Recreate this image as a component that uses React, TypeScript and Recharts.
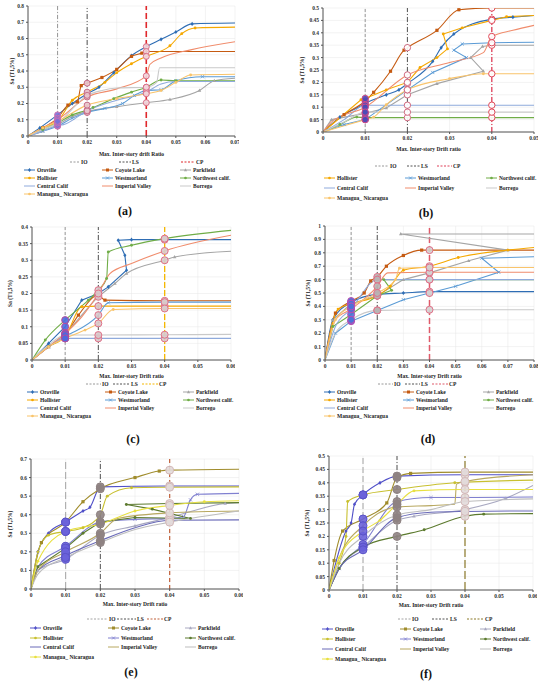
import React from 'react';
import { ComposedChart, Line, Scatter, XAxis, YAxis, CartesianGrid, ReferenceLine } from 'recharts';

type Pt = [number, number];

const SERIES_NAMES = ['Oroville', 'Coyote Lake', 'Parkfield', 'Hollister', 'Westmorland', 'Northwest calif.', 'Central Calif', 'Imperial Valley', 'Borrego', 'Managua_ Nicaragua'];
const LIMIT_NAMES = ['IO', 'LS', 'CP'];
const LIMIT_X = [0.01, 0.02, 0.04];
const MARKERS = ['diamond', 'square', 'triangle', 'circle', 'cross', 'circle', 'none', 'none', 'none', 'circle'];

// ---------- Panel (a) ----------
const A_X_TICKS = [0, 0.01, 0.02, 0.03, 0.04, 0.05, 0.06, 0.07];
const A_Y_TICKS = [0, 0.1, 0.2, 0.3, 0.4, 0.5, 0.6, 0.7, 0.8];
const A_ORO: Pt[] = [[0, 0], [0.004, 0.05], [0.01, 0.13], [0.015, 0.2], [0.02, 0.26], [0.024, 0.3], [0.029, 0.39], [0.035, 0.495], [0.04, 0.55], [0.045, 0.595], [0.05, 0.64], [0.0555, 0.69], [0.07, 0.695]];
const A_COY: Pt[] = [[0, 0], [0.005, 0.05], [0.01, 0.11], [0.0135, 0.19], [0.0167, 0.21], [0.018, 0.31], [0.02, 0.325], [0.025, 0.36], [0.03, 0.41], [0.035, 0.49], [0.0385, 0.51], [0.04, 0.52], [0.07, 0.52]];
const A_PAR: Pt[] = [[0, 0], [0.005, 0.03], [0.01, 0.07], [0.015, 0.12], [0.02, 0.15], [0.03, 0.18], [0.04, 0.205], [0.048, 0.225], [0.058, 0.28], [0.063, 0.34], [0.07, 0.355]];
const A_HOL: Pt[] = [[0, 0], [0.005, 0.05], [0.01, 0.09], [0.015, 0.22], [0.02, 0.27], [0.026, 0.33], [0.03, 0.39], [0.035, 0.445], [0.04, 0.49], [0.048, 0.555], [0.052, 0.63], [0.0565, 0.665], [0.07, 0.67]];
const A_WES: Pt[] = [[0, 0], [0.005, 0.03], [0.01, 0.06], [0.015, 0.11], [0.02, 0.145], [0.026, 0.17], [0.032, 0.2], [0.036, 0.25], [0.04, 0.28], [0.045, 0.285], [0.05, 0.34], [0.059, 0.365], [0.07, 0.365]];
const A_NW: Pt[] = [[0, 0], [0.005, 0.04], [0.01, 0.08], [0.015, 0.13], [0.02, 0.16], [0.022, 0.175], [0.029, 0.23], [0.035, 0.27], [0.04, 0.3], [0.045, 0.345], [0.05, 0.34], [0.07, 0.34]];
const A_CEN: Pt[] = [[0, 0], [0.005, 0.03], [0.01, 0.065], [0.012, 0.07], [0.02, 0.155], [0.03, 0.22], [0.04, 0.27], [0.045, 0.32], [0.05, 0.335], [0.07, 0.335]];
const A_IMP: Pt[] = [[0, 0], [0.005, 0.05], [0.01, 0.1], [0.02, 0.24], [0.03, 0.29], [0.04, 0.37], [0.0412, 0.44], [0.045, 0.48], [0.055, 0.53], [0.07, 0.58]];
const A_BOR: Pt[] = [[0, 0], [0.005, 0.04], [0.01, 0.08], [0.02, 0.25], [0.025, 0.28], [0.03, 0.295], [0.04, 0.3], [0.0435, 0.33], [0.0445, 0.42], [0.07, 0.42]];
const A_MAN: Pt[] = [[0, 0], [0.005, 0.05], [0.01, 0.09], [0.02, 0.19], [0.03, 0.23], [0.04, 0.26], [0.045, 0.28], [0.05, 0.33], [0.055, 0.375], [0.07, 0.38]];

// ---------- Panel (b) ----------
const B_X_TICKS = [0, 0.01, 0.02, 0.03, 0.04, 0.05];
const B_Y_TICKS = [0, 0.05, 0.1, 0.15, 0.2, 0.25, 0.3, 0.35, 0.4, 0.45, 0.5];
const B_ORO: Pt[] = [[0, 0], [0.004, 0.06], [0.0095, 0.11], [0.01, 0.115], [0.015, 0.15], [0.018, 0.17], [0.02, 0.195], [0.026, 0.285], [0.028, 0.34], [0.031, 0.395], [0.04, 0.455], [0.045, 0.463], [0.05, 0.47]];
const B_COY: Pt[] = [[0, 0], [0.005, 0.07], [0.01, 0.125], [0.012, 0.16], [0.016, 0.245], [0.0192, 0.33], [0.02, 0.34], [0.027, 0.41], [0.0322, 0.493], [0.04, 0.5], [0.05, 0.5]];
const B_PAR: Pt[] = [[0, 0], [0.002, 0.05], [0.01, 0.075], [0.015, 0.097], [0.02, 0.15], [0.027, 0.195], [0.038, 0.245], [0.035, 0.3], [0.0378, 0.345], [0.04, 0.35], [0.05, 0.35]];
const B_HOL: Pt[] = [[0, 0], [0.009, 0.13], [0.01, 0.135], [0.015, 0.17], [0.02, 0.2], [0.023, 0.26], [0.027, 0.3], [0.0295, 0.335], [0.0285, 0.395], [0.033, 0.42], [0.04, 0.45], [0.0435, 0.465], [0.05, 0.47]];
const B_WES: Pt[] = [[0, 0], [0.005, 0.03], [0.01, 0.05], [0.02, 0.17], [0.026, 0.24], [0.034, 0.3], [0.031, 0.33], [0.033, 0.355], [0.04, 0.36], [0.05, 0.362]];
const B_NW: Pt[] = [[0, 0], [0.004, 0.03], [0.008, 0.06], [0.01, 0.058], [0.02, 0.058], [0.04, 0.058], [0.05, 0.058]];
const B_CEN: Pt[] = [[0, 0], [0.005, 0.05], [0.01, 0.108], [0.02, 0.108], [0.04, 0.108], [0.05, 0.108]];
const B_IMP: Pt[] = [[0, 0], [0.002, 0.04], [0.01, 0.1], [0.02, 0.23], [0.03, 0.28], [0.038, 0.32], [0.04, 0.385], [0.045, 0.41], [0.05, 0.43]];
const B_BOR: Pt[] = [[0, 0], [0.005, 0.04], [0.01, 0.08], [0.02, 0.08], [0.04, 0.08], [0.05, 0.08]];
const B_MAN: Pt[] = [[0, 0], [0.01, 0.05], [0.012, 0.06], [0.015, 0.11], [0.02, 0.17], [0.03, 0.215], [0.038, 0.235], [0.04, 0.235], [0.05, 0.235]];

// ---------- Panel (c) ----------
const C_X_TICKS = [0, 0.01, 0.02, 0.03, 0.04, 0.05, 0.06];
const C_Y_TICKS = [0, 0.05, 0.1, 0.15, 0.2, 0.25, 0.3, 0.35, 0.4];
const C_ORO: Pt[] = [[0, 0], [0.005, 0.05], [0.01, 0.1], [0.015, 0.18], [0.02, 0.2], [0.023, 0.22], [0.0285, 0.27], [0.028, 0.315], [0.026, 0.36], [0.03, 0.362], [0.04, 0.362], [0.06, 0.362]];
const C_COY: Pt[] = [[0, 0], [0.005, 0.04], [0.01, 0.075], [0.014, 0.135], [0.02, 0.195], [0.022, 0.18], [0.04, 0.178], [0.06, 0.178]];
const C_PAR: Pt[] = [[0, 0], [0.005, 0.04], [0.01, 0.08], [0.02, 0.19], [0.025, 0.23], [0.0285, 0.26], [0.04, 0.3], [0.043, 0.31], [0.06, 0.327]];
const C_HOL: Pt[] = [[0, 0], [0.005, 0.04], [0.01, 0.07], [0.015, 0.16], [0.02, 0.162], [0.04, 0.162], [0.06, 0.162]];
const C_WES: Pt[] = [[0, 0], [0.005, 0.04], [0.01, 0.07], [0.02, 0.135], [0.023, 0.172], [0.04, 0.174], [0.06, 0.174]];
const C_NW: Pt[] = [[0, 0], [0.004, 0.06], [0.01, 0.12], [0.017, 0.18], [0.02, 0.21], [0.0225, 0.245], [0.023, 0.325], [0.03, 0.345], [0.04, 0.365], [0.06, 0.39]];
const C_CEN: Pt[] = [[0, 0], [0.005, 0.04], [0.01, 0.065], [0.02, 0.065], [0.04, 0.065], [0.06, 0.065]];
const C_IMP: Pt[] = [[0, 0], [0.005, 0.04], [0.01, 0.08], [0.015, 0.13], [0.02, 0.2], [0.0235, 0.26], [0.03, 0.29], [0.04, 0.328], [0.06, 0.375]];
const C_BOR: Pt[] = [[0, 0], [0.005, 0.045], [0.01, 0.075], [0.02, 0.075], [0.04, 0.076], [0.06, 0.077]];
const C_MAN: Pt[] = [[0, 0], [0.005, 0.04], [0.01, 0.065], [0.016, 0.09], [0.02, 0.11], [0.0245, 0.152], [0.04, 0.155], [0.06, 0.155]];

// ---------- Panel (d) ----------
const D_X_TICKS = [0, 0.01, 0.02, 0.03, 0.04, 0.05, 0.06, 0.07, 0.08];
const D_Y_TICKS = [0, 0.1, 0.2, 0.3, 0.4, 0.5, 0.6, 0.7, 0.8, 0.9, 1];
const D_ORO: Pt[] = [[0, 0], [0.003, 0.3], [0.01, 0.43], [0.02, 0.49], [0.03, 0.5], [0.04, 0.51], [0.08, 0.51]];
const D_COY: Pt[] = [[0, 0], [0.004, 0.35], [0.01, 0.44], [0.015, 0.5], [0.0175, 0.59], [0.02, 0.62], [0.0235, 0.7], [0.03, 0.78], [0.037, 0.82], [0.04, 0.82], [0.08, 0.82]];
const D_PAR: Pt[] = [[0, 0], [0.003, 0.3], [0.01, 0.42], [0.02, 0.48], [0.03, 0.6], [0.04, 0.65], [0.055, 0.74], [0.07, 0.82], [0.029, 0.94], [0.08, 0.94]];
const D_HOL: Pt[] = [[0, 0], [0.005, 0.38], [0.01, 0.42], [0.02, 0.48], [0.025, 0.55], [0.03, 0.67], [0.04, 0.7], [0.051, 0.765], [0.07, 0.82], [0.08, 0.84]];
const D_WES: Pt[] = [[0, 0], [0.004, 0.2], [0.01, 0.29], [0.02, 0.37], [0.03, 0.45], [0.04, 0.5], [0.05, 0.55], [0.0665, 0.655], [0.06, 0.76], [0.08, 0.77]];
const D_NW: Pt[] = [[0, 0], [0.003, 0.25], [0.01, 0.34], [0.02, 0.48], [0.0255, 0.52], [0.0225, 0.6], [0.04, 0.6], [0.08, 0.6]];
const D_CEN: Pt[] = [[0, 0], [0.004, 0.25], [0.01, 0.38], [0.02, 0.6], [0.04, 0.6], [0.08, 0.6]];
const D_IMP: Pt[] = [[0, 0], [0.004, 0.3], [0.01, 0.38], [0.02, 0.55], [0.024, 0.65], [0.04, 0.655], [0.08, 0.655]];
const D_BOR: Pt[] = [[0, 0], [0.004, 0.2], [0.01, 0.3], [0.02, 0.37], [0.04, 0.375], [0.08, 0.375]];
const D_MAN: Pt[] = [[0, 0], [0.004, 0.3], [0.01, 0.4], [0.02, 0.5], [0.027, 0.6], [0.0285, 0.685], [0.04, 0.69], [0.08, 0.69]];

// ---------- Panel (e) ----------
const E_X_TICKS = [0, 0.01, 0.02, 0.03, 0.04, 0.05, 0.06];
const E_Y_TICKS = [0, 0.1, 0.2, 0.3, 0.4, 0.5, 0.6, 0.7];
const E_ORO: Pt[] = [[0, 0], [0.002, 0.2], [0.005, 0.3], [0.01, 0.36], [0.015, 0.42], [0.017, 0.44], [0.02, 0.55], [0.04, 0.555], [0.06, 0.555]];
const E_COY: Pt[] = [[0, 0], [0.003, 0.25], [0.01, 0.36], [0.015, 0.47], [0.02, 0.54], [0.03, 0.6], [0.037, 0.635], [0.04, 0.64], [0.06, 0.645]];
const E_PAR: Pt[] = [[0, 0], [0.002, 0.1], [0.01, 0.16], [0.02, 0.29], [0.03, 0.34], [0.04, 0.385], [0.056, 0.46], [0.06, 0.465]];
const E_HOL: Pt[] = [[0, 0], [0.002, 0.2], [0.005, 0.29], [0.01, 0.31], [0.015, 0.33], [0.02, 0.4], [0.022, 0.5], [0.029, 0.545], [0.04, 0.548], [0.06, 0.55]];
const E_WES: Pt[] = [[0, 0], [0.002, 0.12], [0.01, 0.23], [0.02, 0.36], [0.03, 0.375], [0.04, 0.38], [0.044, 0.39], [0.046, 0.48], [0.048, 0.51], [0.06, 0.515]];
const E_NW: Pt[] = [[0, 0], [0.002, 0.12], [0.01, 0.22], [0.015, 0.3], [0.02, 0.36], [0.03, 0.385], [0.046, 0.38], [0.035, 0.43], [0.0275, 0.455], [0.04, 0.46], [0.06, 0.465]];
const E_CEN: Pt[] = [[0, 0], [0.002, 0.1], [0.01, 0.18], [0.02, 0.26], [0.03, 0.33], [0.04, 0.37], [0.06, 0.372]];
const E_IMP: Pt[] = [[0, 0], [0.002, 0.1], [0.01, 0.2], [0.02, 0.3], [0.025, 0.38], [0.04, 0.41], [0.06, 0.42]];
const E_BOR: Pt[] = [[0, 0], [0.002, 0.08], [0.01, 0.17], [0.02, 0.25], [0.03, 0.32], [0.04, 0.36], [0.06, 0.42]];
const E_MAN: Pt[] = [[0, 0], [0.002, 0.15], [0.01, 0.31], [0.02, 0.35], [0.03, 0.42], [0.04, 0.45], [0.05, 0.47], [0.06, 0.475]];

// ---------- Panel (f) ----------
const F_X_TICKS = [0, 0.01, 0.02, 0.03, 0.04, 0.05, 0.06];
const F_Y_TICKS = [0, 0.05, 0.1, 0.15, 0.2, 0.25, 0.3, 0.35, 0.4, 0.45, 0.5];
const F_ORO: Pt[] = [[0, 0], [0.005, 0.22], [0.0065, 0.25], [0.0075, 0.32], [0.01, 0.355], [0.015, 0.4], [0.02, 0.425], [0.04, 0.43], [0.06, 0.43]];
const F_COY: Pt[] = [[0, 0], [0.0015, 0.11], [0.004, 0.22], [0.01, 0.265], [0.017, 0.325], [0.02, 0.42], [0.024, 0.435], [0.04, 0.44], [0.06, 0.44]];
const F_PAR: Pt[] = [[0, 0], [0.003, 0.08], [0.01, 0.16], [0.02, 0.26], [0.025, 0.275], [0.04, 0.3], [0.052, 0.342], [0.06, 0.39]];
const F_HOL: Pt[] = [[0, 0], [0.003, 0.1], [0.005, 0.2], [0.0055, 0.33], [0.01, 0.355], [0.02, 0.375], [0.037, 0.4], [0.06, 0.41]];
const F_WES: Pt[] = [[0, 0], [0.003, 0.08], [0.01, 0.17], [0.02, 0.33], [0.03, 0.345], [0.04, 0.345], [0.06, 0.347]];
const F_NW: Pt[] = [[0, 0], [0.003, 0.08], [0.01, 0.16], [0.02, 0.2], [0.028, 0.225], [0.04, 0.275], [0.0455, 0.283], [0.06, 0.285]];
const F_CEN: Pt[] = [[0, 0], [0.003, 0.08], [0.01, 0.15], [0.02, 0.27], [0.03, 0.29], [0.04, 0.293], [0.06, 0.295]];
const F_IMP: Pt[] = [[0, 0], [0.003, 0.12], [0.01, 0.24], [0.02, 0.31], [0.03, 0.315], [0.037, 0.32], [0.0375, 0.395], [0.04, 0.405], [0.06, 0.43]];
const F_BOR: Pt[] = [[0, 0], [0.003, 0.1], [0.01, 0.2], [0.02, 0.28], [0.03, 0.3], [0.04, 0.33], [0.06, 0.34]];
const F_MAN: Pt[] = [[0, 0], [0.003, 0.12], [0.01, 0.22], [0.015, 0.26], [0.02, 0.32], [0.025, 0.37], [0.04, 0.375], [0.06, 0.375]];

const PAL_ABCD = ['#2E6DB4', '#C55A11', '#A5A5A5', '#F5A800', '#5B9BD5', '#70AD47', '#8FAADC', '#F08C6C', '#C9C9C9', '#F9C46B'];
const PAL_EF = ['#5050C8', '#A08C2C', '#A8A8C0', '#C8C030', '#8080D0', '#5C7A2E', '#6A6AB8', '#B8A860', '#BDBDBD', '#E8E040'];

const FONT = "'Liberation Serif','Times New Roman',serif";

type LimStyle = { c: string; d: string; w: number };
type CircStyle = { f: string; s: string; r: number };

interface PanelCfg {
  key: string;
  series: Pt[][];
  palette: string[];
  xMax: number;
  yMax: number;
  xTicks: number[];
  yTicks: number[];
  xTitle: string;
  plot: { l: number; t: number; w: number; h: number };
  yTitleX: number;
  xTitleY: number;
  lim: LimStyle[];
  circ: CircStyle[];
  leg: { limY: number; lim: number[][]; rows: number[]; cols: number[]; skip: number };
  label: { x: number; y: number };
}

const STD = (c: string, d: string, w: number): LimStyle => ({ c, d, w });

const PANELS: PanelCfg[] = [
  {
    key: 'a', series: [A_ORO, A_COY, A_PAR, A_HOL, A_WES, A_NW, A_CEN, A_IMP, A_BOR, A_MAN], palette: PAL_ABCD,
    xMax: 0.07, yMax: 0.8, xTicks: A_X_TICKS, yTicks: A_Y_TICKS, xTitle: 'Max. Inter-story drift Ratio',
    plot: { l: 28, t: 6, w: 207, h: 130 }, yTitleX: 12, xTitleY: 154,
    lim: [STD('#8C8C8C', '4 2 1 2', 0.9), STD('#404040', '5 2 1 2 1 2', 0.9), STD('#E0282C', '6 3', 1.6)],
    circ: [{ f: '#7A6FD8', s: '#D070B0', r: 3 }, { f: '#E8C4CC', s: '#C86C88', r: 3 }, { f: '#F2D4DA', s: '#D87088', r: 3 }],
    leg: { limY: 162, lim: [[70, 80], [119, 131], [181, 195]], rows: [170, 178, 186, 194], cols: [37, 115, 193], skip: 0 },
    label: { x: 125, y: 211 },
  },
  {
    key: 'b', series: [B_ORO, B_COY, B_PAR, B_HOL, B_WES, B_NW, B_CEN, B_IMP, B_BOR, B_MAN], palette: PAL_ABCD,
    xMax: 0.05, yMax: 0.5, xTicks: B_X_TICKS, yTicks: B_Y_TICKS, xTitle: 'Max. Inter-story Drift ratio',
    plot: { l: 323, t: 8, w: 211, h: 124 }, yTitleX: 302, xTitleY: 149,
    lim: [STD('#8C8C8C', '3 2', 0.9), STD('#404040', '5 2 1 2', 0.9), STD('#E0405A', '5 2 1 2', 1.3)],
    circ: [{ f: '#4A4AB8', s: '#D04A88', r: 3.2 }, { f: '#FFFFFF', s: '#D06A80', r: 3.2 }, { f: '#FFFFFF', s: '#E04A5A', r: 3.2 }],
    leg: { limY: 166, lim: [[375, 389], [407, 420], [437, 452]], rows: [178, 188, 198], cols: [337, 418, 499], skip: 3 },
    label: { x: 426, y: 213 },
  },
  {
    key: 'c', series: [C_ORO, C_COY, C_PAR, C_HOL, C_WES, C_NW, C_CEN, C_IMP, C_BOR, C_MAN], palette: PAL_ABCD,
    xMax: 0.06, yMax: 0.4, xTicks: C_X_TICKS, yTicks: C_Y_TICKS, xTitle: 'Max. Inter-story Drift ratio',
    plot: { l: 32, t: 227, w: 199, h: 133 }, yTitleX: 10, xTitleY: 376,
    lim: [STD('#8C8C8C', '3 2', 0.9), STD('#404040', '5 2 1 2', 0.9), STD('#F5B800', '6 2', 1.3)],
    circ: [{ f: '#4A6AE0', s: '#B84A9A', r: 3.5 }, { f: '#D8C8CA', s: '#E07088', r: 3.5 }, { f: '#D8CCCC', s: '#E07088', r: 3.5 }],
    leg: { limY: 384, lim: [[86, 101], [113, 130], [142, 158]], rows: [392, 400, 408, 416], cols: [40, 118, 196], skip: 0 },
    label: { x: 133, y: 439 },
  },
  {
    key: 'd', series: [D_ORO, D_COY, D_PAR, D_HOL, D_WES, D_NW, D_CEN, D_IMP, D_BOR, D_MAN], palette: PAL_ABCD,
    xMax: 0.08, yMax: 1, xTicks: D_X_TICKS, yTicks: D_Y_TICKS, xTitle: 'Max. Inter-story Drift ratio',
    plot: { l: 325, t: 226, w: 209, h: 134 }, yTitleX: 308, xTitleY: 376,
    lim: [STD('#8C8C8C', '3 2', 0.9), STD('#404040', '5 2 1 2', 0.9), STD('#E05A6A', '6 3', 1.5)],
    circ: [{ f: '#4A72D8', s: '#C04AB0', r: 3.5 }, { f: '#B8B4B4', s: '#E07088', r: 3.5 }, { f: '#D4D0D0', s: '#E07088', r: 3.5 }],
    leg: { limY: 384, lim: [[378, 393], [405, 420], [432, 448]], rows: [392, 400, 408, 416], cols: [337, 416, 496], skip: 0 },
    label: { x: 428, y: 439 },
  },
  {
    key: 'e', series: [E_ORO, E_COY, E_PAR, E_HOL, E_WES, E_NW, E_CEN, E_IMP, E_BOR, E_MAN], palette: PAL_EF,
    xMax: 0.06, yMax: 0.7, xTicks: E_X_TICKS, yTicks: E_Y_TICKS, xTitle: 'Max. Inter-story Drift ratio',
    plot: { l: 31, t: 459, w: 208, h: 130 }, yTitleX: 10, xTitleY: 604,
    lim: [STD('#9A9A9A', '7 3', 0.9), STD('#404040', '5 2 1 2', 0.9), STD('#C0603A', '4 3', 1.2)],
    circ: [{ f: '#6A62DA', s: '#5A52C8', r: 4 }, { f: '#8E8282', s: '#8E8282', r: 4 }, { f: '#E2DADA', s: '#D4B8B8', r: 4 }],
    leg: { limY: 619, lim: [[87, 108], [117, 136], [147, 163]], rows: [628, 638, 647, 657], cols: [43, 121, 198], skip: 0 },
    label: { x: 131, y: 672 },
  },
  {
    key: 'f', series: [F_ORO, F_COY, F_PAR, F_HOL, F_WES, F_NW, F_CEN, F_IMP, F_BOR, F_MAN], palette: PAL_EF,
    xMax: 0.06, yMax: 0.5, xTicks: F_X_TICKS, yTicks: F_Y_TICKS, xTitle: 'Max. Inter-story Drift ratio',
    plot: { l: 329, t: 456, w: 204, h: 134 }, yTitleX: 307, xTitleY: 605,
    lim: [STD('#9A9A9A', '6 3', 0.9), STD('#404040', '5 2 1 2', 0.9), STD('#8C7A2A', '8 3', 1.2)],
    circ: [{ f: '#6A62DA', s: '#5A52C8', r: 4 }, { f: '#8E8282', s: '#8E8282', r: 4 }, { f: '#E2DADA', s: '#D4B8B8', r: 4 }],
    leg: { limY: 619, lim: [[398, 411], [432, 449], [467, 484]], rows: [629, 639, 649, 659], cols: [335, 413, 493], skip: 0 },
    label: { x: 426, y: 674 },
  },
];

const fmt = (v: number) => (v === 0 ? '0' : String(parseFloat(v.toFixed(3))));
const isMono = (s: { x: number }[]) => s.every((p, i) => i === 0 || p.x > s[i - 1].x);
const isLimitX = (x: number) => LIMIT_X.some((L) => Math.abs(L - x) < 1e-9);

function findAt(s: { x: number; y: number }[], X: number) {
  const exact = s.find((p) => Math.abs(p.x - X) < 1e-9);
  if (exact) return exact;
  for (let i = 1; i < s.length; i++) {
    const a = s[i - 1], b = s[i];
    if ((a.x - X) * (b.x - X) <= 0 && a.x !== b.x) {
      return { x: X, y: a.y + ((b.y - a.y) * (X - a.x)) / (b.x - a.x) };
    }
  }
  return null;
}

function Marker({ kind, cx, cy, color, r }: { kind: string; cx: number; cy: number; color: string; r: number }) {
  if (kind === 'diamond') return <path d={`M${cx},${cy - r * 1.3}L${cx + r},${cy}L${cx},${cy + r * 1.3}L${cx - r},${cy}Z`} fill={color} />;
  if (kind === 'square') return <rect x={cx - r} y={cy - r} width={r * 2} height={r * 2} fill={color} />;
  if (kind === 'triangle') return <path d={`M${cx},${cy - r * 1.2}L${cx + r * 1.1},${cy + r * 0.8}L${cx - r * 1.1},${cy + r * 0.8}Z`} fill={color} />;
  if (kind === 'cross') return <path d={`M${cx - r},${cy - r}L${cx + r},${cy + r}M${cx - r},${cy + r}L${cx + r},${cy - r}`} stroke={color} strokeWidth={0.8} />;
  if (kind === 'circle') return <circle cx={cx} cy={cy} r={r * 0.9} fill={color} />;
  return null;
}

const makeDot = (kind: string, color: string, n: number) => (p: any) => {
  const { cx, cy, index, payload } = p;
  const key = 'dot-' + index;
  if (kind === 'none' || cx == null || cy == null || index === 0 || index === n - 1 || (payload && isLimitX(payload.x))) return <g key={key} />;
  return (
    <g key={key}>
      <Marker kind={kind} cx={cx} cy={cy} color={color} r={1.6} />
    </g>
  );
};

const circleShape = (st: CircStyle) => (p: any) => (
  <circle cx={p.cx} cy={p.cy} r={st.r} fill={st.f} stroke={st.s} strokeWidth={1} fillOpacity={0.9} />
);

const tickStyle = { fontSize: 5.5, fontWeight: 700, fill: '#333', fontFamily: FONT };

function Panel({ cfg }: { cfg: PanelCfg }) {
  const YW = 26, MT = 4, MR = 4, XH = 14;
  const { l, t, w, h } = cfg.plot;
  const series = cfg.series.map((pts) => pts.map(([x, y]) => ({ x, y })));
  const limitPts = LIMIT_X.map((X) => series.map((s) => findAt(s, X)).filter((p) => p != null) as { x: number; y: number }[]);
  return (
    <div style={{ position: 'absolute', left: l - YW, top: t - MT }}>
      <ComposedChart width={w + YW + MR} height={h + MT + XH} margin={{ top: MT, right: MR, left: 0, bottom: 0 }}>
        <CartesianGrid stroke="#E6E6E6" strokeWidth={0.5} />
        <XAxis
          type="number" dataKey="x" domain={[0, cfg.xMax]} ticks={cfg.xTicks} interval={0} tickFormatter={fmt}
          height={XH} tick={tickStyle} tickSize={2} tickMargin={2} axisLine={{ stroke: '#555' }} tickLine={{ stroke: '#555' }} allowDataOverflow
        />
        <YAxis
          type="number" dataKey="y" domain={[0, cfg.yMax]} ticks={cfg.yTicks} interval={0} tickFormatter={fmt}
          width={YW} tick={tickStyle} tickSize={2} tickMargin={2} axisLine={{ stroke: '#555' }} tickLine={{ stroke: '#555' }} allowDataOverflow
        />
        {LIMIT_X.map((X, i) => (
          <ReferenceLine key={'r' + i} x={X} stroke={cfg.lim[i].c} strokeDasharray={cfg.lim[i].d} strokeWidth={cfg.lim[i].w} />
        ))}
        {series.map((s, i) => (
          <Line
            key={'l' + i} data={s} dataKey="y" type={isMono(s) ? 'monotone' : 'linear'} stroke={cfg.palette[i]} strokeWidth={1.1}
            dot={makeDot(MARKERS[i], cfg.palette[i], s.length)} activeDot={false} isAnimationActive={false} legendType="none"
          />
        ))}
        {limitPts.map((pts, i) => (
          <Scatter key={'s' + i} data={pts} isAnimationActive={false} shape={circleShape(cfg.circ[i])} />
        ))}
      </ComposedChart>
    </div>
  );
}

function Overlay() {
  const txt = { fontFamily: FONT, fontWeight: 700, fontSize: 5.5, fill: '#222' } as const;
  return (
    <svg width={550} height={686} style={{ position: 'absolute', left: 0, top: 0, pointerEvents: 'none' }}>
      {PANELS.map((cfg) => {
        const { l, t, w, h } = cfg.plot;
        const items = SERIES_NAMES.map((n, i) => ({ n, i })).filter((o) => o.i >= cfg.leg.skip);
        return (
          <g key={cfg.key}>
            <text transform={`translate(${cfg.yTitleX},${t + h / 2}) rotate(-90)`} textAnchor="middle" dominantBaseline="central" {...txt}>
              Sa (T1,5%)
            </text>
            <text x={l + w / 2} y={cfg.xTitleY} textAnchor="middle" dominantBaseline="central" {...txt}>
              {cfg.xTitle}
            </text>
            {LIMIT_NAMES.map((n, i) => (
              <g key={n}>
                <line x1={cfg.leg.lim[i][0]} x2={cfg.leg.lim[i][1]} y1={cfg.leg.limY} y2={cfg.leg.limY} stroke={cfg.lim[i].c} strokeDasharray={cfg.lim[i].d === '' ? undefined : '2 1.5'} strokeWidth={Math.min(cfg.lim[i].w, 1.2)} />
                <text x={cfg.leg.lim[i][1] + 1} y={cfg.leg.limY} dominantBaseline="central" {...txt}>{n}</text>
              </g>
            ))}
            {items.map(({ n, i }, k) => {
              const row = Math.floor(k / 3), col = k % 3;
              const y = cfg.leg.rows[row];
              const tx = cfg.leg.cols[col];
              const color = cfg.palette[i];
              return (
                <g key={n}>
                  <line x1={tx - 13} x2={tx - 2} y1={y} y2={y} stroke={color} strokeWidth={1} />
                  <Marker kind={MARKERS[i]} cx={tx - 7.5} cy={y} color={color} r={1.5} />
                  <text x={tx} y={y} dominantBaseline="central" {...txt}>{n}</text>
                </g>
              );
            })}
            <text x={cfg.label.x} y={cfg.label.y} textAnchor="middle" dominantBaseline="central" fontFamily={FONT} fontWeight={700} fontSize={12} fill="#111">
              ({cfg.key})
            </text>
          </g>
        );
      })}
    </svg>
  );
}

export default function App() {
  return (
    <div style={{ position: 'absolute', left: 0, top: 0, width: 550, height: 686, background: '#fff', overflow: 'hidden' }}>
      {PANELS.map((cfg) => (
        <Panel key={cfg.key} cfg={cfg} />
      ))}
      <Overlay />
    </div>
  );
}
